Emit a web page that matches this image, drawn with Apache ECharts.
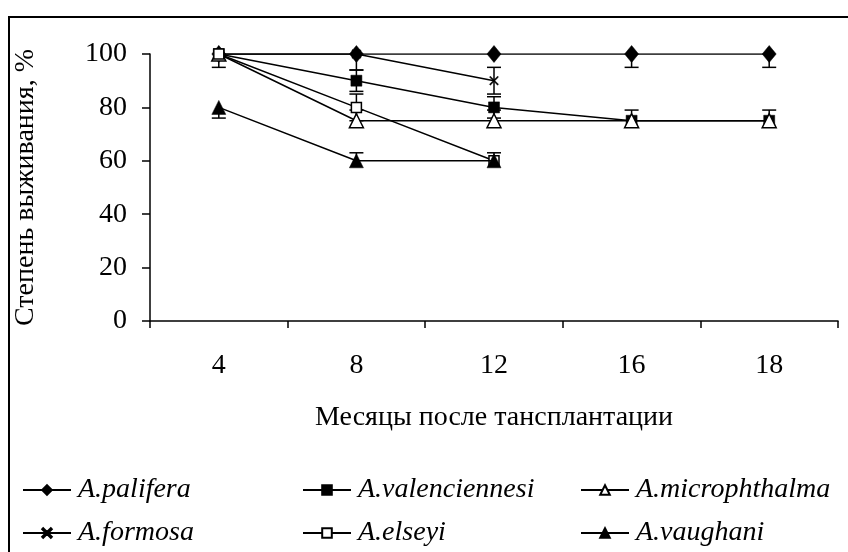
<!DOCTYPE html>
<html><head><meta charset="utf-8">
<script src="https://cdn.jsdelivr.net/npm/echarts@6/dist/echarts.min.js"></script>
<style>html,body{margin:0;padding:0;background:#fff}#c{width:848px;height:552px}</style>
</head><body><div id="c"></div>
<script>
// Data
const months = ['4', '8', '12', '16', '18'];
const seriesNames = ['A.palifera', 'A.valenciennesi', 'A.microphthalma', 'A.formosa', 'A.elseyi', 'A.vaughani'];
const palifera       = [100, 100, 100, 100, 100];
const valenciennesi  = [100, 90, 80, 75, 75];
const microphthalma  = [100, 75, 75, 75, 75];
const formosa        = [100, 100, 90, null, null];
const elseyi         = [100, 80, 60, null, null];
const vaughani       = [80, 60, 60, null, null];
// error bars (up, down)
const paliferaErrUp = [0, 0, 0, 0, 0],       paliferaErrDown = [0, 0, 0, 5, 5];
const valenciennesiErrUp = [0, 4, 4, 0, 0],  valenciennesiErrDown = [0, 4, 4, 0, 0];
const microphthalmaErrUp = [0, 4, 4, 4, 4],  microphthalmaErrDown = [5, 0, 0, 0, 0];
const formosaErrUp = [0, 0, 5, 0, 0],        formosaErrDown = [0, 6, 5, 0, 0];
const elseyiErrUp = [0, 5, 0, 0, 0],         elseyiErrDown = [0, 5, 0, 0, 0];
const vaughaniErrUp = [0, 3, 3, 0, 0],       vaughaniErrDown = [4, 0, 0, 0, 0];
const yTicks = [0, 20, 40, 60, 80, 100];

const values = [palifera, valenciennesi, microphthalma, formosa, elseyi, vaughani];
const errUp = [paliferaErrUp, valenciennesiErrUp, microphthalmaErrUp, formosaErrUp, elseyiErrUp, vaughaniErrUp];
const errDown = [paliferaErrDown, valenciennesiErrDown, microphthalmaErrDown, formosaErrDown, elseyiErrDown, vaughaniErrDown];

const xPath = 'path://M0,1L1,0L5,4L9,0L10,1L6,5L10,9L9,10L5,6L1,10L0,9L4,5Z';
const styles = [
  {symbol: 'diamond', size: [14, 17], fill: '#000'},
  {symbol: 'rect', size: 11, fill: '#000'},
  {symbol: 'triangle', size: [14, 14], fill: '#fff'},
  {symbol: xPath, size: 9, fill: '#000'},
  {symbol: 'rect', size: 10, fill: '#fff'},
  {symbol: 'triangle', size: [14, 14], fill: '#000'}
];
const FONT = '"Liberation Serif", "Times New Roman", serif';

const series = [];
values.forEach((vals, i) => {
  const ebData = [];
  vals.forEach((v, j) => {
    if (v == null) return;
    const up = errUp[i][j], dn = errDown[i][j];
    if (up || dn) ebData.push([j, v - dn, v + up, v]);
  });
  series.push({
    type: 'custom', name: seriesNames[i] + '_err', silent: true, z: 1,
    data: ebData,
    renderItem: function (params, api) {
      const x = api.value(0);
      const lo = api.coord([x, api.value(1)]);
      const hi = api.coord([x, api.value(2)]);
      const mid = api.coord([x, api.value(3)]);
      const children = [{type: 'line', shape: {x1: lo[0], y1: lo[1], x2: hi[0], y2: hi[1]}, style: {stroke: '#000', lineWidth: 1.5}}];
      if (Math.abs(lo[1] - mid[1]) > 0.5) children.push({type: 'line', shape: {x1: lo[0] - 7, y1: lo[1], x2: lo[0] + 7, y2: lo[1]}, style: {stroke: '#000', lineWidth: 1.5}});
      if (Math.abs(hi[1] - mid[1]) > 0.5) children.push({type: 'line', shape: {x1: hi[0] - 7, y1: hi[1], x2: hi[0] + 7, y2: hi[1]}, style: {stroke: '#000', lineWidth: 1.5}});
      return {type: 'group', children: children};
    }
  });
});
values.forEach((vals, i) => {
  const s = styles[i];
  series.push({
    type: 'line', name: seriesNames[i], data: vals, z: 3 + i,
    symbol: s.symbol, symbolSize: s.size, showAllSymbol: true,
    lineStyle: {color: '#000', width: 1.5},
    itemStyle: {color: s.fill, borderColor: '#000', borderWidth: s.fill === '#fff' ? 1.5 : 0.5, opacity: 1},
    emphasis: {disabled: true}, animation: false
  });
});

function legend(names, left) {
  return {
    data: names, orient: 'vertical', left: left, top: 476, itemGap: 15, padding: 0,
    itemWidth: 48, itemHeight: 12,
    textStyle: {fontFamily: FONT, fontStyle: 'italic', fontSize: 28, lineHeight: 28, color: '#000', padding: [0, 0, 0, 2]}
  };
}

const chart = echarts.init(document.getElementById('c'), null, {renderer: 'canvas'});
chart.setOption({
  animation: false,
  backgroundColor: '#fff',
  graphic: [{type: 'rect', shape: {x: 9, y: 17, width: 860, height: 560}, style: {fill: null, stroke: '#000', lineWidth: 2}, silent: true}],
  grid: {left: 150, right: 10, top: 54, bottom: 231},
  legend: [
    legend(['A.palifera', 'A.formosa'], 22),
    legend(['A.valenciennesi', 'A.elseyi'], 302),
    legend(['A.microphthalma', 'A.vaughani'], 580)
  ],
  xAxis: {
    type: 'category', data: months, boundaryGap: true,
    name: 'Месяцы после тансплантации', nameLocation: 'middle', nameGap: 83,
    nameTextStyle: {fontFamily: FONT, fontSize: 28, color: '#000'},
    axisLine: {lineStyle: {color: '#000', width: 1.5}},
    axisTick: {show: true, length: 7, lineStyle: {color: '#000', width: 1.5}},
    axisLabel: {margin: 31, fontFamily: FONT, fontSize: 28, color: '#000'},
    splitLine: {show: false}
  },
  yAxis: {
    type: 'value', min: yTicks[0], max: yTicks[yTicks.length - 1], interval: 20,
    name: 'Степень выживания, %', nameLocation: 'middle', nameGap: 110, nameRotate: 90,
    nameTextStyle: {fontFamily: FONT, fontSize: 28, color: '#000'},
    axisLine: {show: true, lineStyle: {color: '#000', width: 1.5}},
    axisTick: {show: true, length: 8, lineStyle: {color: '#000', width: 1.5}},
    axisLabel: {margin: 23, fontFamily: FONT, fontSize: 28, color: '#000'},
    splitLine: {show: false}
  },
  series: series
});
</script></body></html>
